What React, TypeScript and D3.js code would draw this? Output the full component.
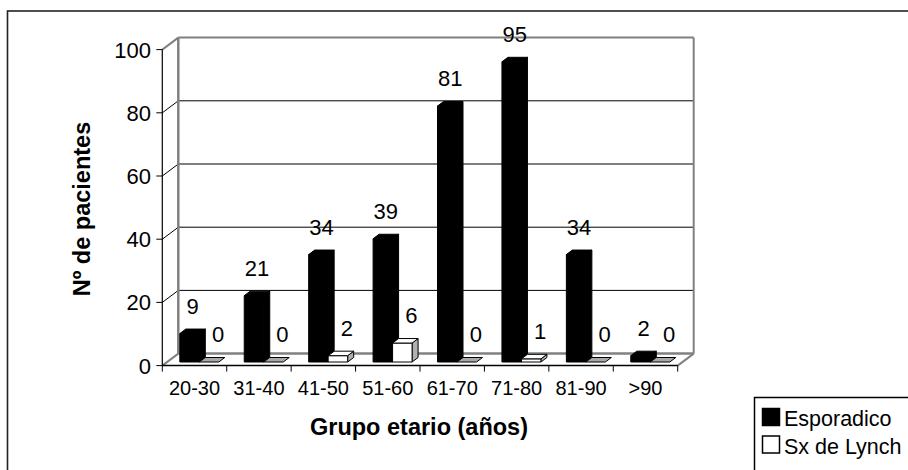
import React from "react";
import * as d3 from "d3";

const categories = ["20-30", "31-40", "41-50", "51-60", "61-70", "71-80", "81-90", ">90"];
const seriesNames = ["Esporadico", "Sx de Lynch"];
const esporadico = [9, 21, 34, 39, 81, 95, 34, 2];
const lynch = [0, 0, 2, 6, 0, 1, 0, 0];
const yTicks = [0, 20, 40, 60, 80, 100];

const FONT = "'Liberation Sans', Arial, sans-serif";

export default function App() {
  const x = d3.scaleBand<string>().domain(categories).range([162.3, 677.7]).padding(0);
  const xs = d3
    .scaleBand<string>()
    .domain(seriesNames)
    .range([0, x.bandwidth()])
    .paddingInner(0)
    .paddingOuter(0.652);
  const y = d3.scaleLinear().domain([0, 100]).range([365.6, 49.6]);

  const wdx = 16;
  const wdy = -12;
  const bsx = 4.8; // bar front shift
  const bsy = -3.6;
  const bdx = 6; // bar depth
  const bdy = -4.5;

  const x0 = x.range()[0];
  const x1 = x.range()[1];
  const gray = "#808080";
  const values = [esporadico, lynch];

  const bars: React.ReactNode[] = [];
  const labels: React.ReactNode[] = [];
  categories.forEach((c, ci) => {
    values.forEach((arr, si) => {
      const v = arr[ci];
      const bx = (x(c) as number) + (xs(seriesNames[si]) as number) + bsx;
      const w = xs.bandwidth();
      const yb = y(0) + bsy;
      const yt = y(v) + bsy;
      const black = si === 0;
      const front = black ? "#000" : "#fff";
      const top = black ? "#000" : v === 0 ? "#a8a8a8" : "#fff";
      const side = black ? "#000" : "#b0b0b0";
      const topPts = `${bx},${yt} ${bx + w},${yt} ${bx + w + bdx},${yt + bdy} ${bx + bdx},${yt + bdy}`;
      const sidePts = `${bx + w},${yb} ${bx + w + bdx},${yb + bdy} ${bx + w + bdx},${yt + bdy} ${bx + w},${yt}`;
      bars.push(
        <g key={`b${ci}-${si}`} stroke="#000" strokeWidth={1} strokeLinejoin="round">
          {v > 0 && <polygon points={sidePts} fill={side} />}
          {v > 0 && <rect x={bx} y={yt} width={w} height={yb - yt} fill={front} />}
          <polygon points={topPts} fill={top} />
        </g>
      );
      labels.push(
        <text
          key={`l${ci}-${si}`}
          x={bx + w / 2 + (black ? 3 : 9)}
          y={yt - 20}
          textAnchor="middle"
          fontSize={22}
          fontFamily={FONT}
          fill="#000"
        >
          {v}
        </text>
      );
    });
  });

  return (
    <svg
      width={908}
      height={470}
      style={{ position: "absolute", left: 0, top: 0, background: "#fff" }}
    >
      <rect x={0} y={0} width={908} height={470} fill="#fff" />
      {/* outer frame */}
      <rect x={7.5} y={11} width={1200} height={1000} fill="none" stroke="#222" strokeWidth={1.6} />

      {/* back wall gridlines */}
      {yTicks.map((t) => {
        const isEdge = t === 0 || t === 100;
        return (
          <g key={`g${t}`}>
            {!isEdge && (
              <line x1={x0 + wdx} x2={x1 + wdx} y1={y(t) + wdy} y2={y(t) + wdy} stroke="#000" strokeWidth={1} />
            )}
            <line
              x1={x0}
              y1={y(t)}
              x2={x0 + wdx}
              y2={y(t) + wdy}
              stroke={isEdge ? gray : "#000"}
              strokeWidth={isEdge ? 2 : 1}
            />
          </g>
        );
      })}
      {/* back wall frame */}
      <line x1={x0 + wdx} x2={x1 + wdx} y1={y(100) + wdy} y2={y(100) + wdy} stroke={gray} strokeWidth={2} />
      <line x1={x0 + wdx} x2={x0 + wdx} y1={y(100) + wdy} y2={y(0) + wdy} stroke={gray} strokeWidth={2.5} />
      <line x1={x1 + wdx} x2={x1 + wdx} y1={y(100) + wdy} y2={y(0) + wdy} stroke={gray} strokeWidth={2} />
      {/* floor */}
      <line x1={x0 + wdx} x2={x1 + wdx} y1={y(0) + wdy} y2={y(0) + wdy} stroke={gray} strokeWidth={2.5} />
      <line x1={x1} y1={y(0)} x2={x1 + wdx} y2={y(0) + wdy} stroke={gray} strokeWidth={2} />

      {bars}

      {/* front axes */}
      <line x1={x0} x2={x0} y1={y(0)} y2={y(100)} stroke="#000" strokeWidth={1.2} />
      <line x1={x0} x2={x1} y1={y(0)} y2={y(0)} stroke="#000" strokeWidth={1.5} />
      {yTicks.map((t) => (
        <g key={`yt${t}`}>
          <line x1={x0 - 6} x2={x0} y1={y(t)} y2={y(t)} stroke="#000" strokeWidth={1} />
          <text x={151} y={y(t) + 8} textAnchor="end" fontSize={22} fontFamily={FONT} fill="#000">
            {t}
          </text>
        </g>
      ))}
      {[...categories.map((c) => x(c) as number), x1].map((px, i) => (
        <line key={`xt${i}`} x1={px} x2={px} y1={y(0)} y2={y(0) + 6} stroke="#000" strokeWidth={1} />
      ))}
      {categories.map((c) => (
        <text
          key={`xl${c}`}
          x={(x(c) as number) + x.bandwidth() / 2}
          y={395}
          textAnchor="middle"
          fontSize={20}
          fontFamily={FONT}
          fill="#000"
        >
          {c}
        </text>
      ))}

      {labels}

      {/* axis titles */}
      <text x={419} y={435} textAnchor="middle" fontSize={23.5} fontWeight="bold" fontFamily={FONT} fill="#000">
        Grupo etario (años)
      </text>
      <text
        transform="translate(90,209) rotate(-90)"
        textAnchor="middle"
        fontSize={23.5}
        fontWeight="bold"
        fontFamily={FONT}
        fill="#000"
      >
        Nº de pacientes
      </text>

      {/* legend */}
      <rect x={754.5} y={397.5} width={400} height={200} fill="#fff" stroke="#000" strokeWidth={1.5} />
      {seriesNames.map((s, i) => (
        <g key={`lg${s}`}>
          <rect
            x={762.5}
            y={408.5 + i * 27.5}
            width={17}
            height={17}
            fill={i === 0 ? "#000" : "#fff"}
            stroke="#000"
            strokeWidth={1.5}
          />
          <text x={784} y={426 + i * 27.5} fontSize={21.5} fontFamily={FONT} fill="#000">
            {s}
          </text>
        </g>
      ))}
    </svg>
  );
}
